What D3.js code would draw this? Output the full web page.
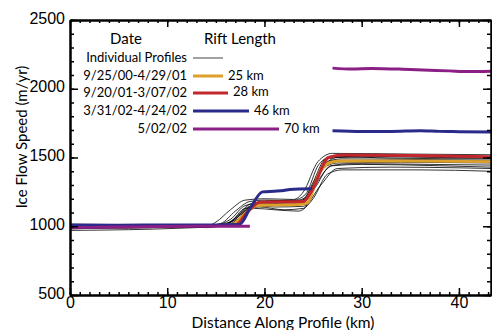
<!DOCTYPE html>
<html>
<head>
<meta charset="utf-8">
<script src="https://cdn.jsdelivr.net/npm/d3@7"></script>
<style>
  body { margin: 0; background: #fff; }
  svg { display: block; }
</style>
</head>
<body>
<div id="chart"></div>
<script>
// individual profiles (thin black), [km, m/yr]
const profiles = [
  [[0,985],[5,990],[10,1000],[14,1005],[15.5,1020],[17,1110],[18.5,1180],[20,1190],[23,1185],[24.5,1220],[26,1430],[27.5,1500],[35,1505],[43.3,1500]],
  [[0,1010],[4,1005],[8,990],[12,995],[16,1010],[17.5,1080],[19,1150],[21,1165],[23.5,1170],[25,1300],[26.5,1470],[28,1490],[36,1485],[43.3,1480]],
  [[0,970],[6,975],[11,985],[15,1000],[16.5,1030],[18,1130],[19.5,1140],[22,1120],[24,1130],[25.5,1330],[27,1440],[30,1450],[38,1440],[43.3,1430]],
  [[0,995],[5,1000],[10,1010],[14,1000],[15,1030],[16.5,1120],[18,1190],[20,1200],[23,1195],[24,1250],[25.5,1470],[27,1530],[35,1525],[43.3,1520]],
  [[0,1000],[3,1005],[9,995],[13,1005],[16,1005],[17.5,1060],[19,1130],[21,1120],[23.5,1110],[25,1200],[26.5,1380],[28,1410],[36,1410],[43.3,1400]],
  [[0,990],[6,985],[10,995],[15,1000],[17,1020],[18.5,1120],[20,1160],[22.5,1160],[24,1170],[25.5,1380],[27,1480],[32,1475],[39,1478],[43.3,1470]],
  [[0,1005],[5,1010],[11,1000],[15,1010],[16.5,1050],[18,1150],[20,1175],[22,1180],[24,1190],[25,1320],[26.3,1490],[30,1510],[38,1500],[43.3,1495]],
  [[0,980],[4,990],[9,1000],[14,990],[16,1010],[17.5,1090],[19,1150],[21,1140],[24,1145],[25.8,1300],[27.5,1420],[33,1430],[40,1425],[43.3,1420]],
  [[0,1015],[5,1012],[10,1008],[15,1012],[16.8,1040],[18.3,1140],[20,1170],[23,1175],[24.5,1210],[26,1420],[27.5,1460],[34,1465],[43.3,1460]],
  [[0,995],[7,1000],[12,1010],[16,1002],[17.2,1050],[18.8,1150],[21,1155],[23.8,1160],[25.2,1280],[26.8,1440],[29,1455],[37,1450],[43.3,1445]],
  [[0,1000],[6,1005],[12,995],[15.5,1005],[17,1060],[18.5,1160],[20.5,1185],[23,1190],[24.2,1230],[25.6,1450],[27,1510],[33,1495],[43.3,1490]]
];

// dated profiles
const orange = [[0,998],[5,1002],[10,1005],[15,1005],[16.6,1010],[18,1090],[19.2,1150],[21,1155],[23.5,1158],[24.4,1170],[25.6,1380],[26.8,1465],[28,1475],[35,1475],[43.3,1470]];
const red = [[0,1000],[4,1000],[9,1002],[13,1005],[17,1008],[18.2,1100],[19.5,1175],[22,1178],[24,1180],[24.8,1250],[26.6,1500],[28,1518],[35,1515],[43.3,1505]];
const blueLow = [[0,1010],[5,1008],[10,1010],[15,1010],[17.4,1012],[18.6,1140],[19.8,1250],[21,1255],[22,1260],[22.6,1268],[24.9,1272]];
const blueHigh = [[27,1695],[30,1690],[33,1690],[36,1695],[38,1690],[40,1688],[43.3,1685]];
const purpleLow = [[0,990],[5,995],[10,998],[15,1000],[18.5,1000]];
const purpleHigh = [[27,2150],[29,2143],[31,2148],[35,2140],[39,2130],[41,2125],[43.3,2128]];

const legendDates = ["Individual Profiles", "9/25/00-4/29/01", "9/20/01-3/07/02", "3/31/02-4/24/02", "5/02/02"];
const legendRift = ["", "25 km", "28 km", "46 km", "70 km"];
const legendLen = [30, 30, 35, 56, 86];
const colors = ["#000000", "#DDA02A", "#C1272D", "#2A2A8A", "#8B1F86"];

const xTicks = [0, 10, 20, 30, 40];
const yTicks = [500, 1000, 1500, 2000, 2500];

const width = 492, height = 330;
const mLeft = 70, mRight = 491, mTop = 20, mBottom = 295;

const svg = d3.select("#chart").append("svg")
    .attr("width", width)
    .attr("height", height);

const x = d3.scaleLinear().domain([0, 43.3]).range([mLeft, mRight]);
const y = d3.scaleLinear().domain([500, 2500]).range([mBottom, mTop]);

const line = d3.line()
    .x(d => x(d[0]))
    .y(d => y(d[1]))
    .curve(d3.curveMonotoneX);

// lines
svg.append("g").selectAll("path")
    .data(profiles)
    .enter().append("path")
    .attr("d", line)
    .attr("fill", "none")
    .attr("stroke", "#000")
    .attr("stroke-width", 0.8);

const colored = [
  [orange, colors[1]], [red, colors[2]],
  [blueLow, colors[3]], [blueHigh, colors[3]],
  [purpleLow, colors[4]], [purpleHigh, colors[4]]
];
colored.forEach(([d, c]) => {
    svg.append("path")
        .datum(d)
        .attr("d", line)
        .attr("fill", "none")
        .attr("stroke", c)
        .attr("stroke-width", 3);
});

// axes
const tickFont = "'Liberation Sans', Arial, sans-serif";
const minorX = d3.range(0, 44, 1);
const minorY = d3.range(500, 2501, 100);

function styleAxis(g) {
    g.select(".domain").attr("stroke-width", 2);
    g.selectAll(".tick line").attr("stroke-width", 1.5);
    g.selectAll("text").style("font-family", tickFont).style("font-size", "16px").attr("fill", "#000");
}

svg.append("g")
    .attr("transform", `translate(0,${mBottom})`)
    .call(d3.axisBottom(x).tickValues(xTicks).tickSize(-7).tickSizeOuter(0).tickPadding(2).tickFormat(d3.format("d")))
    .call(styleAxis);
svg.append("g")
    .attr("transform", `translate(0,${mBottom})`)
    .call(d3.axisBottom(x).tickValues(minorX).tickSize(-3).tickSizeOuter(0).tickFormat(""))
    .call(styleAxis);

svg.append("g")
    .attr("transform", `translate(0,${mTop})`)
    .call(d3.axisTop(x).tickValues(xTicks).tickSize(-7).tickSizeOuter(0).tickFormat(""))
    .call(styleAxis);
svg.append("g")
    .attr("transform", `translate(0,${mTop})`)
    .call(d3.axisTop(x).tickValues(minorX).tickSize(-3).tickSizeOuter(0).tickFormat(""))
    .call(styleAxis);

svg.append("g")
    .attr("transform", `translate(${mLeft},0)`)
    .call(d3.axisLeft(y).tickValues(yTicks).tickSize(-8).tickSizeOuter(0).tickPadding(5).tickFormat(d3.format("d")))
    .call(styleAxis)
    .call(g => g.selectAll("text").attr("dy", "0.2em"));
svg.append("g")
    .attr("transform", `translate(${mLeft},0)`)
    .call(d3.axisLeft(y).tickValues(minorY).tickSize(-4).tickSizeOuter(0).tickFormat(""))
    .call(styleAxis);

svg.append("g")
    .attr("transform", `translate(${mRight},0)`)
    .call(d3.axisRight(y).tickValues(yTicks).tickSize(-8).tickSizeOuter(0).tickFormat(""))
    .call(styleAxis);
svg.append("g")
    .attr("transform", `translate(${mRight},0)`)
    .call(d3.axisRight(y).tickValues(minorY).tickSize(-4).tickSizeOuter(0).tickFormat(""))
    .call(styleAxis);

// axis titles
const labelFont = "Lato, 'Noto Sans', sans-serif";
svg.append("text")
    .attr("x", 283)
    .attr("y", 328)
    .attr("text-anchor", "middle")
    .style("font-family", labelFont)
    .style("font-size", "15.5px")
    .text("Distance Along Profile (km)");

svg.append("text")
    .attr("transform", `translate(27,137) rotate(-90)`)
    .attr("text-anchor", "middle")
    .style("font-family", labelFont)
    .style("font-size", "15px")
    .text("Ice Flow Speed (m/yr)");

// legend
const legend = svg.append("g").style("font-family", labelFont);
legend.append("text").attr("x", 126).attr("y", 44).attr("text-anchor", "middle")
    .style("font-size", "15px").text("Date");
legend.append("text").attr("x", 240).attr("y", 44).attr("text-anchor", "middle")
    .style("font-size", "15px").text("Rift Length");

const rowY = [57, 75, 92, 110, 128];
legendDates.forEach((d, i) => {
    legend.append("text")
        .attr("x", 187)
        .attr("y", rowY[i] + 5)
        .attr("text-anchor", "end")
        .style("font-size", "13px")
        .text(d);
    legend.append("line")
        .attr("x1", 193)
        .attr("x2", 193 + legendLen[i])
        .attr("y1", rowY[i] + 1)
        .attr("y2", rowY[i] + 1)
        .attr("stroke", i === 0 ? "#444" : colors[i])
        .attr("stroke-width", i === 0 ? 1 : 3);
    if (legendRift[i]) {
        legend.append("text")
            .attr("x", 193 + legendLen[i] + 5)
            .attr("y", rowY[i] + 5 - (i === 2 ? 1 : 0))
            .style("font-size", "13px")
            .text(legendRift[i]);
    }
});
</script>
</body>
</html>
